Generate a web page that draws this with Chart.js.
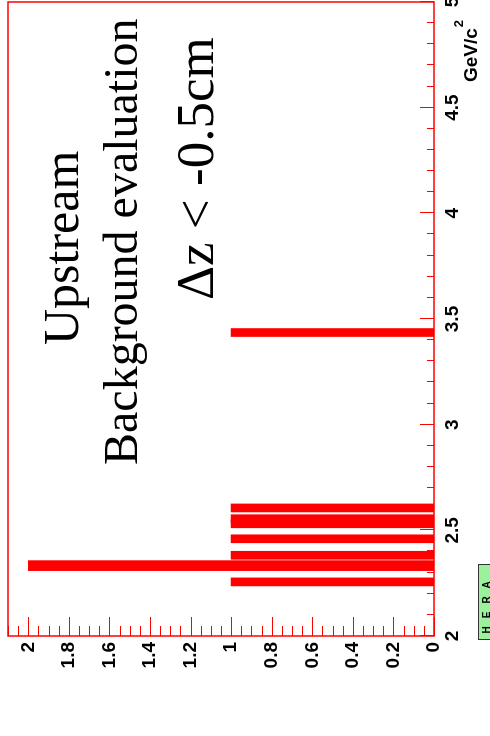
<!DOCTYPE html>
<html>
<head>
<meta charset="utf-8">
<script src="https://cdn.jsdelivr.net/npm/chart.js@4/dist/chart.umd.min.js"></script>
<style>
  html, body { margin: 0; padding: 0; background: #fff; overflow: hidden; }
  /* the histogram is laid out landscape and turned a quarter turn */
  #turn {
    position: absolute; left: 0; top: 0;
    width: 736px; height: 490px; overflow: hidden; background: #fff;
    transform-origin: 0 0;
    transform: translateY(736px) rotate(-90deg);
  }
  canvas { display: block; }
</style>
</head>
<body>
<div id="turn"><canvas id="c" width="760" height="490"></canvas></div>
<script>
// invariant mass of the candidates (GeV/c^2) and entries per bin
const massSingle  = [2.256, 2.382, 2.460, 2.531, 2.555, 2.606, 3.436];
const countSingle = [1, 1, 1, 1, 1, 1, 1];
const massDouble  = [2.333];
const countDouble = [2];

// axis ticks
const massTicks  = [2, 2.5, 3, 3.5, 4, 4.5, 5];
const countTicks = [0, 0.2, 0.4, 0.6, 0.8, 1, 1.2, 1.4, 1.6, 1.8, 2];
const massMax = 5, massMin = 2, countMax = 2.1;

const titleLines = ['Upstream', 'Background evaluation', '\u0394z < -0.5cm'];
const axisUnit = 'GeV/c';
const logoText = ['H', 'E', 'R', 'A'];

const RED = '#ff0000';

const toPoints = (xs, ys) => xs.map((x, i) => ({ x: x, y: ys[i] }));

const framePlugin = {
  id: 'rootFrame',
  afterDatasetsDraw(chart) {
    const { ctx, chartArea: a, scales: { x, y } } = chart;
    ctx.save();
    ctx.strokeStyle = RED;
    // minor/major ticks on the count axis (inside the frame)
    ctx.lineWidth = 1;
    for (let i = 0; i * 0.05 <= countMax + 1e-9; i++) {
      const py = Math.round(y.getPixelForValue(i * 0.05)) + 0.5;
      const len = (i % 4 === 0) ? 19 : 10;
      ctx.beginPath(); ctx.moveTo(a.left, py); ctx.lineTo(a.left + len, py); ctx.stroke();
    }
    // ticks on the mass axis
    for (let i = 0; massMin + i * 0.1 <= massMax + 1e-9; i++) {
      const px = Math.round(x.getPixelForValue(massMin + i * 0.1)) + 0.5;
      const len = (i % 5 === 0) ? 14 : 7;
      ctx.beginPath(); ctx.moveTo(px, a.bottom); ctx.lineTo(px, a.bottom - len); ctx.stroke();
    }
    ctx.lineWidth = 1.5;
    ctx.strokeRect(a.left, a.top, a.right - a.left, a.bottom - a.top);
    ctx.restore();
  },
  afterDraw(chart) {
    const { ctx } = chart;
    ctx.save();
    ctx.fillStyle = '#000';
    ctx.textBaseline = 'alphabetic';
    ctx.textAlign = 'left';
    ctx.font = '50px "Liberation Serif"';
    ctx.fillText(titleLines[0], 391, 78);
    ctx.font = '48px "Liberation Serif"';
    ctx.fillText(titleLines[1], 271, 137);
    ctx.font = '53px "Liberation Serif"';
    ctx.fillText(titleLines[2], 436, 213);

    // unit of the mass axis
    ctx.font = 'bold 19px "Liberation Sans"';
    ctx.fillText(axisUnit, 654, 477);
    const w = ctx.measureText(axisUnit).width;
    ctx.font = 'bold 13px "Liberation Sans"';
    ctx.fillText('2', 654 + w + 1, 463);

    // logo box in the corner
    ctx.fillStyle = '#9cf29c';
    ctx.fillRect(96, 478, 75, 20);
    ctx.strokeStyle = '#333';
    ctx.lineWidth = 1;
    ctx.strokeRect(96.5, 478.5, 75, 20);
    ctx.fillStyle = '#000';
    ctx.font = 'bold 10px "Liberation Sans"';
    ctx.textBaseline = 'top';
    ctx.textAlign = 'center';
    logoText.forEach((t, i) => ctx.fillText(t, 106 + i * 15, 482));
    ctx.restore();
  }
};

const tickFont = { family: '"Liberation Sans"', size: 19, weight: 'bold' };

new Chart(document.getElementById('c'), {
  type: 'bar',
  data: {
    datasets: [
      {
        label: 'entries',
        data: toPoints(massSingle, countSingle),
        backgroundColor: RED, borderWidth: 0,
        barThickness: 8, skipNull: true
      },
      {
        label: 'entries (2)',
        data: toPoints(massDouble, countDouble),
        backgroundColor: RED, borderWidth: 0,
        barThickness: 10, skipNull: true
      }
    ]
  },
  options: {
    responsive: false,
    animation: false,
    devicePixelRatio: 1,
    layout: { padding: { left: 0, right: 26, top: 8, bottom: 0 } },
    plugins: { legend: { display: false }, tooltip: { enabled: false }, title: { display: false } },
    scales: {
      x: {
        type: 'linear', position: 'bottom', min: massMin, max: massMax, offset: false,
        grid: { display: false, drawTicks: false }, border: { display: false },
        afterBuildTicks: s => { s.ticks = massTicks.map(v => ({ value: v })); },
        afterFit: s => { s.height = 56; s.paddingLeft = 0; s.paddingRight = 0; },
        ticks: {
          color: '#000', font: tickFont, padding: 7, autoSkip: false,
          maxRotation: 0, minRotation: 0,
          callback: v => String(Math.round(v * 10) / 10)
        }
      },
      y: {
        type: 'linear', position: 'left', min: 0, max: countMax,
        grid: { display: false, drawTicks: false }, border: { display: false },
        afterBuildTicks: s => { s.ticks = countTicks.map(v => ({ value: v })); },
        afterFit: s => { s.width = 100; s.paddingTop = 0; s.paddingBottom = 0; },
        ticks: {
          color: '#000', font: tickFont, padding: 6, autoSkip: false,
          callback: v => String(Math.round(v * 10) / 10)
        }
      }
    }
  },
  plugins: [framePlugin]
});
</script>
</body>
</html>
